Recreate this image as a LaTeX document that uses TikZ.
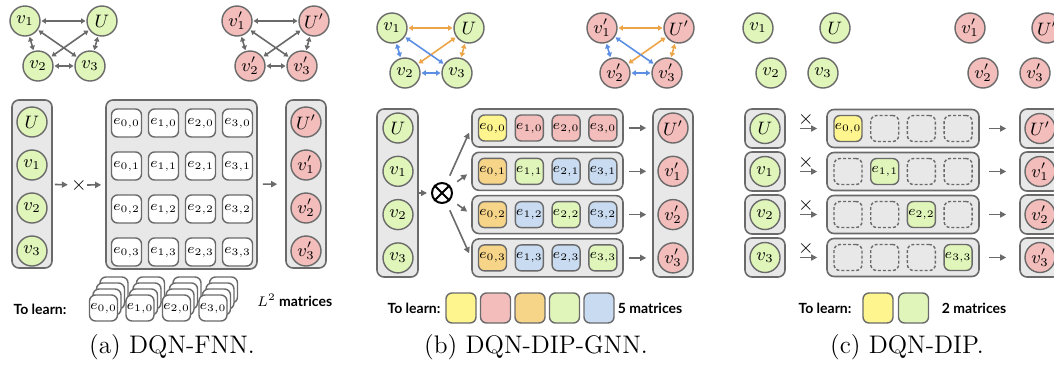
\documentclass[tikz,border=0pt]{standalone}
\usepackage{fontspec}
\usepackage{amsmath,amssymb}
\newfontfamily\legendfont{Lato}
\usetikzlibrary{arrows.meta,positioning}
\definecolor{linegray}{HTML}{6A6A6A}
\definecolor{boxgray}{HTML}{E8E8E8}
\definecolor{vgreen}{HTML}{E0F5B9}
\definecolor{vpink}{HTML}{F2BDBB}
\definecolor{myyellow}{HTML}{FEF58E}
\definecolor{myorange}{HTML}{F6D488}
\definecolor{myblue}{HTML}{C9DBF0}
\definecolor{edgeblue}{HTML}{5C8FE3}
\definecolor{edgeorange}{HTML}{EDA54A}

\begin{document}
\begin{tikzpicture}[x=0.5pt,y=-0.5pt,
  vtx/.style={circle,draw=linegray,line width=0.7pt,minimum size=15pt,inner sep=0pt,font=\small},
  gv/.style={vtx,fill=vgreen},
  pv/.style={vtx,fill=vpink},
  panel/.style={draw=linegray,fill=boxgray,line width=0.8pt,rounded corners=3.5pt,inner sep=0pt},
  cell/.style={draw=linegray,line width=0.7pt,rounded corners=3pt,inner sep=0pt,minimum width=14pt,minimum height=13pt,font=\fontsize{6.8}{7}\selectfont},
  ghost/.style={cell,fill=boxgray,dash pattern=on 1.5pt off 1pt},
  arr/.style={draw=linegray,line width=0.8pt,-{Triangle[length=3pt,width=3pt]}},
  link/.style={line width=0.8pt,{Triangle[length=2.2pt,width=2.6pt]}-{Triangle[length=2.2pt,width=2.6pt]},shorten >=0.4pt,shorten <=0.4pt},
  learn/.style={font=\legendfont\bfseries\fontsize{7}{8}\selectfont},
  caption/.style={font=\fontsize{12.7}{15}\selectfont}]
\clip (0,0) rectangle (1054,365);

% the six small graphs
\foreach \g/\x/\y/\sty/\m in {a/25/21/gv/{},ap/237/21/pv/{'},b/392/28/gv/{},bp/602/28/pv/{'},c/758/28/gv/{},cp/970/28/pv/{'}} {
  \node[\sty] (\g1) at (\x,\y) {$v\m_1$};
  \node[\sty] (\g0) at (\x+77,\y) {$U\m$};
  \node[\sty] (\g2) at (\x+13,\y+45) {$v\m_2$};
  \node[\sty] (\g3) at (\x+65,\y+45) {$v\m_3$};
}
\foreach \g in {a,ap}
  \foreach \s/\t in {1/0,1/2,1/3,2/0,3/0,2/3}
    \draw[link,linegray] (\g\s) -- (\g\t);
\foreach \g in {b,bp} {
  \foreach \s/\t in {1/0,2/0,3/0} \draw[link,edgeorange] (\g\s) -- (\g\t);
  \foreach \s/\t in {1/2,1/3,2/3} \draw[link,edgeblue] (\g\s) -- (\g\t);
}

% (a) DQN-FNN
\node[panel,minimum width=20pt,minimum height=84pt] (ain) at (32,184) {};
\node[panel,minimum width=75.5pt,minimum height=84.5pt] (amat) at (181.5,184.5) {};
\node[panel,minimum width=20pt,minimum height=84pt] (aout) at (306,184) {};
\foreach \i/\l in {0/U,1/v_1,2/v_2,3/v_3} {
  \node[gv] (ain\i) at (32,122+43*\i) {$\l$};
  \node[pv] (aout\i) at (306,122+43*\i) {$\l'$};
}
\foreach \i in {0,...,3}
  \foreach \j in {0,...,3}
    \node[cell,fill=white,minimum width=15pt,minimum height=14pt] (ae\i\j) at (126.5+37*\i,123+43*\j) {$e_{\i,\j}$};
\node[inner sep=0pt] (atimes) at (79,185) {$\times$};
\draw[arr,shorten <=1pt,shorten >=1.5pt] (ain) -- (atimes);
\draw[arr,shorten >=2pt] (atimes) -- (amat);
\draw[arr,shorten <=2.5pt,shorten >=4pt] (amat) -- (aout);
\foreach \i in {0,...,3} {
  \foreach \k in {3,2,1}
    \node[cell,fill=white] at (103.5+36.5*\i+3.5*\k,308-6*\k) {};
  \node[cell,fill=white] (as\i) at (103.5+36.5*\i,308) {$e_{\i,0}$};
}
\node[learn] at (40,309) {To learn:};
\node[learn,anchor=west] at (250,300) {$L^2$ matrices};
\node[caption] at (172,347) {(a) DQN-FNN.};

% (b) DQN-DIP-GNN
\node[panel,minimum width=20.5pt,minimum height=84pt] (bin) at (397.5,193) {};
\node[panel,minimum width=20pt,minimum height=84pt] (bout) at (673,193) {};
\foreach \i/\l in {0/U,1/v_1,2/v_2,3/v_3} {
  \node[gv] (bin\i) at (398,128+43.3*\i) {$\l$};
  \node[pv] (bout\i) at (673,128+43.3*\i) {$\l'$};
}
\node[circle,draw=black,line width=1pt,minimum size=10pt,inner sep=0pt] (bot) at (442,193) {};
\draw[line width=1pt] (bot.45) -- (bot.225) (bot.135) -- (bot.315);
\draw[arr,shorten >=2pt] (bin) -- (bot);
\foreach \j/\ca/\cb/\cc/\cd in {0/myyellow/vpink/vpink/vpink,1/myorange/vgreen/myblue/myblue,2/myorange/myblue/vgreen/myblue,3/myorange/myblue/myblue/vgreen} {
  \node[panel,minimum width=75.5pt,minimum height=19pt] (brow\j) at (547.5,128+43.3*\j) {};
  \foreach \i/\c in {0/\ca,1/\cb,2/\cc,3/\cd}
    \node[cell,fill=\c] (be\i\j) at (492.5+36.8*\i,128+43.3*\j) {$e_{\i,\j}$};
  \draw[arr,shorten <=4pt,shorten >=2.5pt] (bot) -- (brow\j.west);
  \draw[arr,shorten <=2.5pt,shorten >=3pt] (brow\j.east) -- (brow\j.east -| bout.west);
}
\node[learn] at (414,308) {To learn:};
\foreach \c [count=\n from 0] in {myyellow,vpink,myorange,vgreen,myblue}
  \node[cell,fill=\c,minimum width=15pt,minimum height=15pt] (bl\n) at (461+34.5*\n,308) {};
\node[learn] at (650,308) {5 matrices};
\node[caption] at (536,347) {(b) DQN-DIP-GNN.};

% (c) DQN-DIP
\foreach \j/\l in {0/U,1/v_1,2/v_2,3/v_3} {
  \node[panel,minimum width=20pt,minimum height=19.5pt] (cin\j) at (765,128.5+43*\j) {};
  \node[gv] (cv\j) at (765,128.5+43*\j) {$\l$};
  \node[panel,minimum width=76pt,minimum height=19pt] (crow\j) at (903,128.5+43*\j) {};
  \node[panel,minimum width=20pt,minimum height=19.5pt] (cout\j) at (1040,128.5+43*\j) {};
  \node[pv] (cw\j) at (1040,128.5+43*\j) {$\l'$};
  \draw[arr,shorten <=7pt,shorten >=4.5pt] (cin\j) -- node[above=1pt,inner sep=0pt] {$\times$} (crow\j);
  \draw[arr,shorten <=4.5pt,shorten >=6.5pt] (crow\j) -- (cout\j);
  \foreach \i in {0,...,3} {
    \ifnum\i=\j\else
      \node[ghost] (ce\i\j) at (848+36.7*\i,128.5+43*\j) {};
    \fi
  }
}
\foreach \k/\c in {0/myyellow,1/vgreen,2/vgreen,3/vgreen}
  \node[cell,fill=\c] (ce\k\k) at (848+36.7*\k,128.5+43*\k) {$e_{\k,\k}$};
\node[learn] at (825,308) {To learn:};
\node[cell,fill=myyellow,minimum width=15pt,minimum height=15pt] (cl0) at (878,308) {};
\node[cell,fill=vgreen,minimum width=15pt,minimum height=15pt] (cl1) at (913.5,308) {};
\node[learn] at (974,308) {2 matrices};
\node[caption] at (907,347) {(c) DQN-DIP.};
\end{tikzpicture}
\end{document}
